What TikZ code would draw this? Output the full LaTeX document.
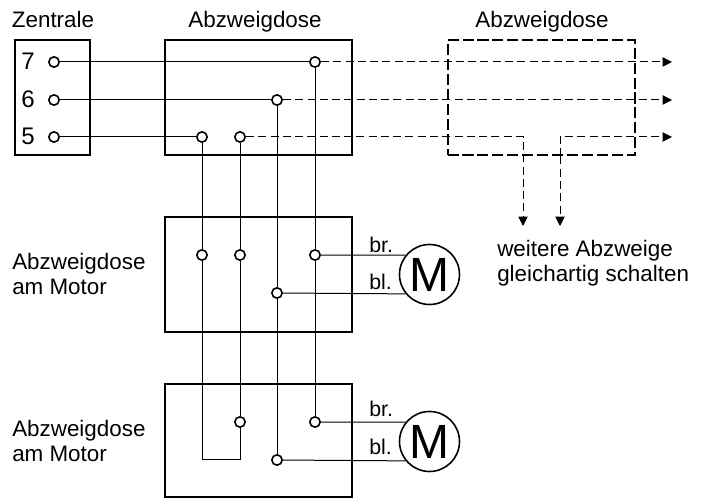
\documentclass[tikz,border=0pt]{standalone}
\usepackage{fontspec}
\setmainfont{Liberation Sans}
\usetikzlibrary{arrows.meta}
\tikzset{
  dose/.style={draw,line width=1.5pt,rectangle,inner sep=0pt,minimum width=140.25pt,minimum height=86.25pt},
  dosedash/.style={dose,dash pattern=on 8.3pt off 2.9pt},
  klemme/.style={draw,line width=1.2pt,circle,inner sep=0pt,minimum size=7.75pt},
  motor/.style={draw,line width=1.2pt,circle,inner sep=0pt,minimum size=45pt,font=\fontsize{36}{36}\selectfont},
  wire/.style={line width=0.75pt},
  wiredash/.style={line width=0.75pt,dash pattern=on 6pt off 3.2pt},
  tip/.style={-{Triangle[length=7pt,width=7pt]}},
  label/.style={inner sep=0pt,font=\fontsize{16.8}{19}\selectfont},
  digit/.style={inner sep=0pt,anchor=base,font=\fontsize{18}{20}\selectfont},
  small/.style={inner sep=0pt,anchor=base west,font=\fontsize{16}{18}\selectfont}
}
\begin{document}
\begin{tikzpicture}[x=0.75pt,y=0.75pt,yscale=-1,xscale=1]
\useasboundingbox (0,0) rectangle (704,498);

%Boxes
\node [dose,minimum width=56.25pt] (zentrale) at (52,98) {};
\node [dose] (doseA) at (258.5,98) {};
\node [dosedash] (doseB) at (541,98) {};
\node [dose] (doseC) at (258.5,274.5) {};
\node [dose,minimum height=84.75pt] (doseD) at (258.5,440.5) {};

%Titles
\node [label,anchor=base] (lblZ) at (53,28) {Zentrale};
\node [label,anchor=base] (lblA) at (255,28) {Abzweigdose};
\node [label,anchor=base] (lblB) at (542,28) {Abzweigdose};
\node [label,anchor=west,align=left] (lblC) at (12,274) {Abzweigdose\\am Motor};
\node [label,anchor=west,align=left] (lblD) at (12,441) {Abzweigdose\\am Motor};
\node [label,anchor=west,align=left] (lblW) at (497,263) {weitere Abzweige\\gleichartig schalten};
\node [digit] (n7) at (28,70) {7};
\node [digit] (n6) at (28,108) {6};
\node [digit] (n5) at (28,145) {5};

%Terminals
\node [klemme] (z7) at (54,62) {};
\node [klemme] (z6) at (54,100) {};
\node [klemme] (z5) at (54,137) {};
\node [klemme] (a7) at (315,62) {};
\node [klemme] (a6) at (277,100) {};
\node [klemme] (a5) at (202,137) {};
\node [klemme] (a4) at (240,137) {};
\node [klemme] (c5) at (202,255) {};
\node [klemme] (c4) at (240,255) {};
\node [klemme] (c7) at (315,255) {};
\node [klemme] (c6) at (277,293) {};
\node [klemme] (d4) at (240,422) {};
\node [klemme] (d7) at (315,422) {};
\node [klemme] (d6) at (277,460) {};

%Motors
\node [motor] (motorC) at (429.5,274.5) {M};
\node [motor] (motorD) at (429.5,441.5) {M};
\node [small] (brC) at (369,253) {br.};
\node [small] (blC) at (369,290) {bl.};
\node [small] (brD) at (369,417) {br.};
\node [small] (blD) at (369,455) {bl.};

%Free ends
\coordinate (end7) at (672,62);
\coordinate (end6) at (672,100);
\coordinate (end5) at (672,137);
\coordinate (kneeL) at (523,137);
\coordinate (kneeR) at (560,137);
\coordinate (downL) at (523,226);
\coordinate (downR) at (560,226);
\coordinate (loopL) at (202,460);
\coordinate (loopR) at (240,460);

%Straight Lines
\draw [wire] (z7) -- (a7);
\draw [wire] (z6) -- (a6);
\draw [wire] (z5) -- (a5);
\draw [wire] (a7) -- (c7);
\draw [wire] (c7) -- (d7);
\draw [wire] (a6) -- (c6);
\draw [wire] (c6) -- (d6);
\draw [wire] (a5) -- (c5);
\draw [wire] (a4) -- (c4);
\draw [wire] (c4) -- (d4);
\draw [wire] (c5) -- (loopL) -- (loopR) -- (d4);
\draw [wire] (c7) -- (motorC.141);
\draw [wire] (c6) -- (motorC.219);
\draw [wire] (d7) -- (motorD.141);
\draw [wire] (d6) -- (motorD.219);

%Dashed Lines
\draw [wiredash,tip] (a7) -- (end7);
\draw [wiredash,tip] (a6) -- (end6);
\draw [wiredash,tip] (a4) -- (kneeL) -- (downL);
\draw [wiredash,tip] (downR |- doseB.south) -- (kneeR) -- (end5);
\draw [wiredash,tip] (downR |- doseB.south) -- (downR);
\end{tikzpicture}
\end{document}
